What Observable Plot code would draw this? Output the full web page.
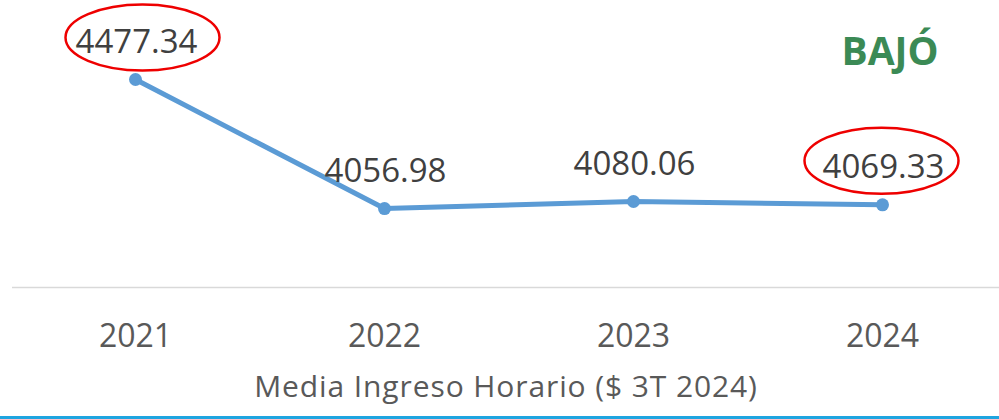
<!DOCTYPE html>
<html>
<head>
<meta charset="utf-8">
<script src="https://cdn.jsdelivr.net/npm/d3@7"></script>
<script src="https://cdn.jsdelivr.net/npm/@observablehq/plot@0.6"></script>
<style>
  html, body { margin: 0; padding: 0; background: #fff; overflow: hidden; }
  #chart { width: 999px; height: 416px; border-bottom: 3px solid #1ea5e0; }
  #chart svg { display: block; font-family: "Open Sans", "Noto Sans", sans-serif; }
</style>
</head>
<body>
<div id="chart"></div>
<script>
// Data
const years = ["2021", "2022", "2023", "2024"];
const values = [4477.34, 4056.98, 4080.06, 4069.33];
const labels = ["4477.34", "4056.98", "4080.06", "4069.33"];
const highlighted = ["2021", "2024"];
const axisTitle = "Media Ingreso Horario ($ 3T 2024)";
const note = "BAJÓ";

const data = years.map((y, i) => ({year: y, value: values[i], label: labels[i]}));

// Custom ellipse symbol
const ellipse = (rx, ry) => ({
  draw(ctx) {
    const k = 0.5523;
    ctx.moveTo(rx, 0);
    ctx.bezierCurveTo(rx, k * ry, k * rx, ry, 0, ry);
    ctx.bezierCurveTo(-k * rx, ry, -rx, k * ry, -rx, 0);
    ctx.bezierCurveTo(-rx, -k * ry, -k * rx, -ry, 0, -ry);
    ctx.bezierCurveTo(k * rx, -ry, rx, -k * ry, rx, 0);
    ctx.closePath();
  }
});

const chart = Plot.plot({
  width: 999,
  height: 416,
  marginLeft: 12,
  marginRight: 0,
  marginTop: 0,
  marginBottom: 129,
  x: {type: "point", domain: years, range: [135, 882], padding: 0, label: null},
  y: {domain: [3800, 4734.6], axis: null},
  marks: [
    Plot.ruleY([3800], {stroke: "#d9d9d9", strokeWidth: 1.5}),
    Plot.axisX({tickSize: 0, tickPadding: 37, fontSize: 32, color: "#595959", label: null}),
    Plot.line(data, {x: "year", y: "value", stroke: "#5b9bd5", strokeWidth: 5}),
    Plot.dot(data, {x: "year", y: "value", r: 6.5, fill: "#5b9bd5"}),
    Plot.text(data, {x: "year", y: "value", text: "label", fontSize: 33, fill: "#404040", lineAnchor: "middle", dy: -37, dx: 1}),
    Plot.dot(data.filter(d => d.year === highlighted[0]), {x: "year", y: "value", symbol: ellipse(77, 33), stroke: "#ee0000", strokeWidth: 2.5, fill: "none", dx: 7, dy: -42}),
    Plot.dot(data.filter(d => d.year === highlighted[1]), {x: "year", y: "value", symbol: ellipse(77, 33), stroke: "#ee0000", strokeWidth: 2.5, fill: "none", dx: -1, dy: -44}),
    Plot.text([note], {frameAnchor: "top-right", dx: -61, dy: 52, lineAnchor: "middle", textAnchor: "end", fontSize: 39, fontWeight: "bold", fill: "#3b8a55"}),
    Plot.text([axisTitle], {frameAnchor: "bottom", dy: 100, lineAnchor: "middle", fontSize: 30, fill: "#595959"})
  ]
});
d3.select(chart).selectAll("text").filter(function () { return this.textContent === axisTitle; })
  .style("letter-spacing", "0.9px");
document.getElementById("chart").append(chart);
</script>
</body>
</html>
